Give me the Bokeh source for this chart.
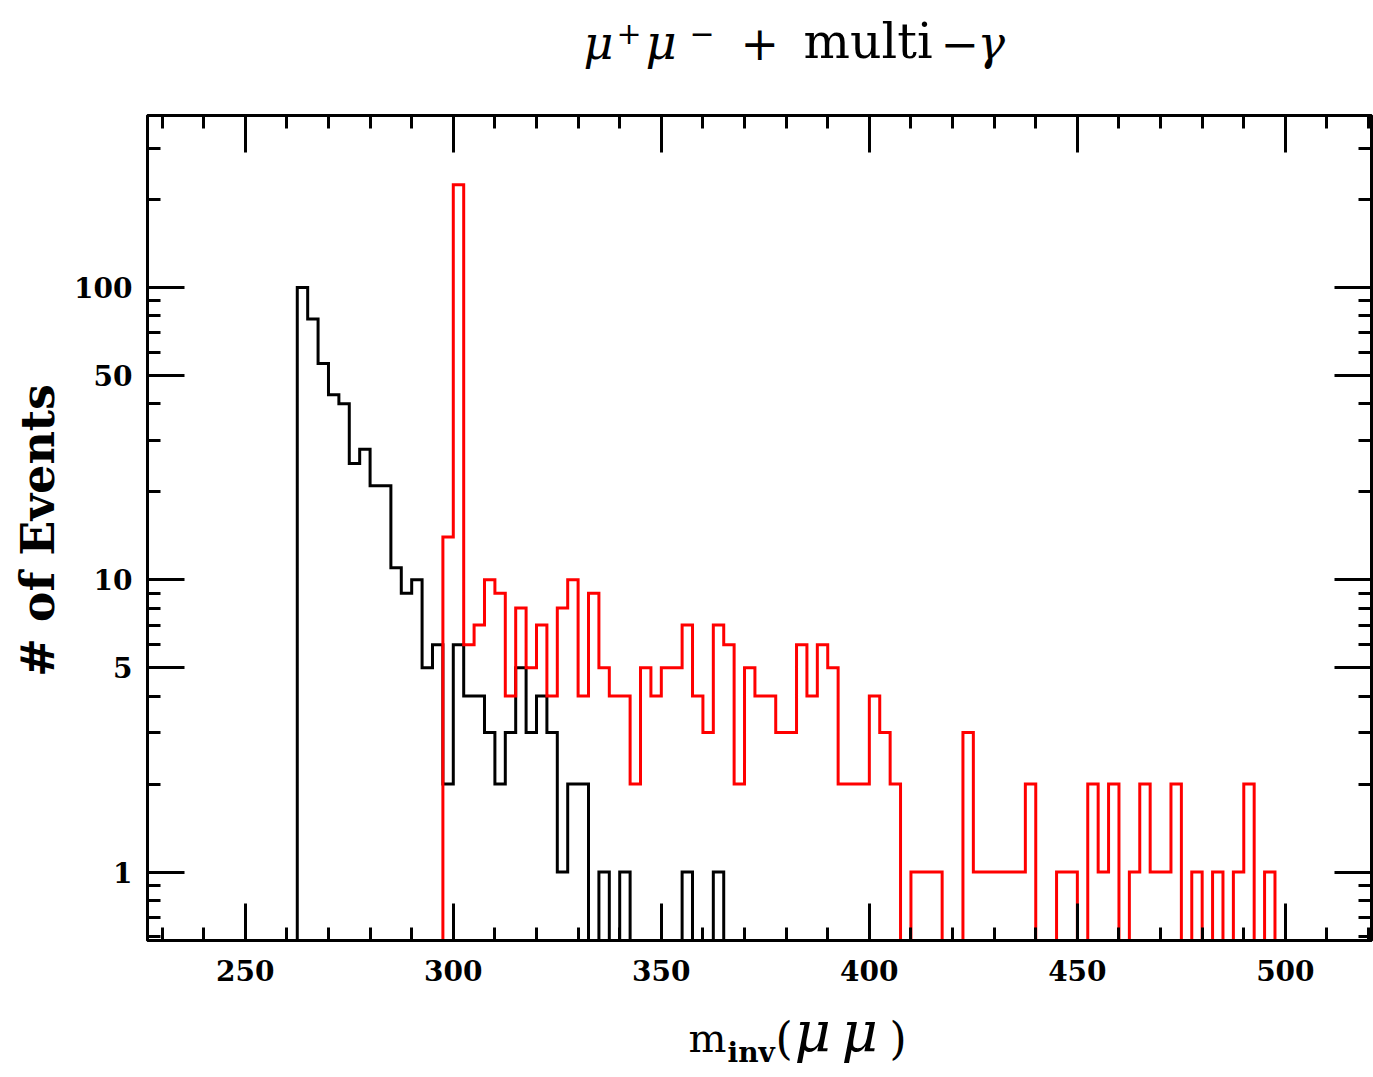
import math
from bokeh.plotting import figure
from bokeh.layouts import column, row
from bokeh.models import Range1d, FixedTicker, LinearAxis, LogAxis, BasicTickFormatter
from bokeh.core.properties import value
from bokeh.embed import file_html
from bokeh.resources import INLINE

# ---------------- data ----------------
bin_width = 2.5

black_start = 262.5
black_counts = [100, 78, 55, 43, 40, 25, 28, 21, 21, 11, 9, 10, 5, 6, 2, 6, 4, 4, 3, 2,
                3, 5, 3, 4, 3, 1, 2, 2, 0, 1, 0, 1, 0, 0, 0, 0, 0, 1, 0, 0, 1]

red_start = 297.5
red_counts = [14, 225, 6, 7, 10, 9, 4, 8, 5, 7, 4, 8, 10, 4, 9, 5, 4, 4, 2, 5,
              4, 5, 5, 7, 4, 3, 7, 6, 2, 5, 4, 4, 3, 3, 6, 4, 6, 5, 2, 2,
              2, 4, 3, 2, 0, 1, 1, 1, 0, 0, 3, 1, 1, 1, 1, 1, 2, 0, 0, 1,
              1, 0, 2, 1, 2, 0, 1, 2, 1, 1, 2, 0, 1, 0, 1, 0, 1, 2, 0, 1]

x_major_ticks = [250, 300, 350, 400, 450, 500]
x_minor_ticks = [230, 240, 260, 270, 280, 290, 310, 320, 330, 340, 360, 370, 380, 390,
                 410, 420, 430, 440, 460, 470, 480, 490, 510, 520]
y_major_ticks = [1, 5, 10, 50, 100]
y_minor_ticks = [0.6, 0.7, 0.8, 0.9, 2, 3, 4, 6, 7, 8, 9, 20, 30, 40, 60, 70, 80, 90, 200, 300]

x_limits = (226.5, 520.7)
y_limits = (0.583, 388.0)

title_parts = ["μ", "+", "μ", "−", "+", "multi", "−", "γ"]
xlabel_parts = ["m", "inv", "(", "μ", "μ", ")"]
ylabel_text = "# of Events"

BLACK = "#000000"
RED = "#ff0000"
SERIF = "DejaVu Serif"
BASE_K = 0.385   # measured shift of the rendered baseline, in em

# ---------------- layout sizes (page pixels) ----------------
W = 1373
TITLE_H = 88
YLAB_W = 68
MAIN_H = 907
XLAB_H = 1077 - TITLE_H - MAIN_H


def outline(start, counts, base):
    xs = [start]
    ys = [base]
    for i, c in enumerate(counts):
        lo = start + i * bin_width
        hi = lo + bin_width
        v = c if c > 0 else base
        xs += [lo, hi]
        ys += [v, v]
    xs.append(start + len(counts) * bin_width)
    ys.append(base)
    return xs, ys


def text_fig(w, h):
    f = figure(width=w, height=h, x_range=Range1d(0, w), y_range=Range1d(0, h),
               x_axis_location=None, y_axis_location=None,
               output_backend="svg", toolbar_location=None,
               min_border=0, min_border_left=0, min_border_right=0,
               min_border_top=0, min_border_bottom=0)
    f.grid.visible = False
    f.outline_line_color = None
    f.background_fill_color = "white"
    f.border_fill_color = "white"
    return f


def put(f, txt, x, y, size, style="normal", angle=0.0):
    f.text(x=[x], y=[y], text=[txt], text_font=value(SERIF), text_font_size=value(f"{size}px"),
           text_font_style=style, text_color=BLACK, text_align="left",
           text_baseline="alphabetic", angle=angle)


def put_page(f, fig_top, txt, px, py, size, style="normal"):
    # place text with its baseline at page (px, py)
    put(f, txt, px, f.height - (py - fig_top) + BASE_K * size, size, style)


# ---------------- main plot ----------------
p = figure(width=W - YLAB_W, height=MAIN_H,
           x_range=Range1d(*x_limits), y_range=Range1d(*y_limits),
           y_axis_type="log", x_axis_location=None, y_axis_location=None,
           output_backend="svg", toolbar_location=None,
           min_border_left=147 - YLAB_W, min_border_right=2,
           min_border_top=115 - TITLE_H, min_border_bottom=TITLE_H + MAIN_H - 940)
p.grid.visible = False
p.outline_line_color = BLACK
p.outline_line_width = 3
p.background_fill_color = "white"
p.border_fill_color = "white"


def style_axis(ax, show_labels):
    ax.axis_line_color = BLACK
    ax.axis_line_width = 3
    ax.major_tick_in = 37
    ax.major_tick_out = 0
    ax.minor_tick_in = 13
    ax.minor_tick_out = 0
    ax.major_tick_line_width = 3
    ax.minor_tick_line_width = 3
    ax.major_tick_line_color = BLACK
    ax.minor_tick_line_color = BLACK
    if show_labels:
        ax.major_label_text_font = SERIF
        ax.major_label_text_font_style = "bold"
        ax.major_label_text_font_size = "28px"
        ax.major_label_text_color = BLACK
    else:
        ax.major_label_text_font_size = "0px"
        ax.major_label_text_color = None
        ax.major_label_standoff = 0


xt = FixedTicker(ticks=x_major_ticks, minor_ticks=x_minor_ticks)
yt = FixedTicker(ticks=y_major_ticks, minor_ticks=y_minor_ticks)

xb = LinearAxis(ticker=xt, formatter=BasicTickFormatter())
style_axis(xb, True)
xb.major_label_standoff = 19
p.add_layout(xb, "below")

xa = LinearAxis(ticker=xt)
style_axis(xa, False)
p.add_layout(xa, "above")

yl = LogAxis(ticker=yt, formatter=BasicTickFormatter())
style_axis(yl, True)
yl.major_label_standoff = 15
p.add_layout(yl, "left")

yr = LogAxis(ticker=yt)
style_axis(yr, False)
p.add_layout(yr, "right")

base = y_limits[0]
bx, by = outline(black_start, black_counts, base)
p.line(bx, by, line_color=BLACK, line_width=3, line_join="miter")
rx, ry = outline(red_start, red_counts, base)
p.line(rx, ry, line_color=RED, line_width=3, line_join="miter")

# ---------------- title strip (page y 0..TITLE_H) ----------------
tf = text_fig(W, TITLE_H)
put_page(tf, 0, title_parts[0], 583, 60, 46, "italic")
put_page(tf, 0, title_parts[1], 616, 44, 30)
put_page(tf, 0, title_parts[2], 645, 60, 48, "italic")
put_page(tf, 0, title_parts[3], 689, 44, 30)
put_page(tf, 0, title_parts[4], 740, 60, 46)
put_page(tf, 0, title_parts[5], 803, 60, 49)
put_page(tf, 0, title_parts[6], 940, 60, 46)
put_page(tf, 0, title_parts[7], 977, 60, 46, "italic")

# ---------------- y label strip (rotated) ----------------
yf = text_fig(YLAB_W, MAIN_H)
YL_SIZE = 46
put(yf, ylabel_text, 55 - BASE_K * YL_SIZE, TITLE_H + MAIN_H - 705, f"{YL_SIZE}", "bold", angle=math.pi / 2)

# ---------------- x label strip ----------------
xf = text_fig(W, XLAB_H)
XTOP = TITLE_H + MAIN_H
put_page(xf, XTOP, xlabel_parts[0], 688, 1053, 40)
put_page(xf, XTOP, xlabel_parts[1], 727, 1063, 28, "bold")
put_page(xf, XTOP, xlabel_parts[2], 775, 1055, 44)
put_page(xf, XTOP, xlabel_parts[3], 794, 1053, 56, "italic")
put_page(xf, XTOP, xlabel_parts[4], 841, 1053, 56, "italic")
put_page(xf, XTOP, xlabel_parts[5], 889, 1055, 44)

layout = column(tf, row(yf, p), xf)
open("out.html", "w").write(file_html(layout, INLINE))
